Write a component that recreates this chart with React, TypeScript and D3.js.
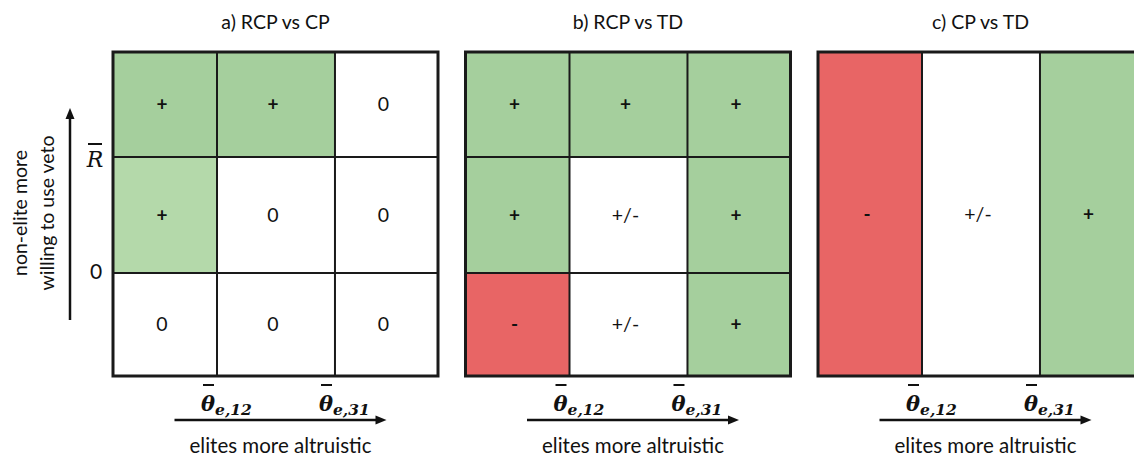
import React from "react";
import * as d3 from "d3";

// ---- data ----
const panelTitles = ["a) RCP vs CP", "b) RCP vs TD", "c) CP vs TD"];
// column thresholds along "elites more altruistic" (fraction of panel width)
const columnEdges = [0, 0.32, 0.683, 1];
// row thresholds along "non-elite more willing to use veto" (fraction from top)
const rowEdges = [0, 0.324, 0.682, 1];
const xTickLabels = ["12", "31"]; // subscripts of theta-bar_e
const yTickLabels = ["R", "0"];

// cell signs (rows top->bottom, columns left->right)
const signsA = [
  ["+", "+", "0"],
  ["+", "0", "0"],
  ["0", "0", "0"],
];
const fillsA = [
  ["green", "green", "white"],
  ["lightgreen", "white", "white"],
  ["white", "white", "white"],
];
const signsB = [
  ["+", "+", "+"],
  ["+", "+/-", "+"],
  ["-", "+/-", "+"],
];
const fillsB = [
  ["green", "green", "green"],
  ["green", "white", "green"],
  ["red", "white", "green"],
];
// panel c: whole-height columns
const signsC = ["-", "+/-", "+"];
const fillsC = ["red", "white", "green"];

const colorMap: Record<string, string> = {
  green: "#a5cf9d",
  lightgreen: "#b4d9aa",
  white: "#ffffff",
  red: "#e86565",
};

const W = 1134;
const H = 462;
const FONT = "Lato, 'Open Sans', sans-serif";
const MATH = "'DejaVu Serif', 'Liberation Serif', serif";

const panelLeft = d3.scaleLinear().domain([0, 1]).range([113, 465.5]);
const panelWidth = 325;
const yScale = d3.scaleLinear().domain([0, 1]).range([52, 376]);

type Cell = { r: number; c: number; sign: string; fill: string; y0: number; y1: number };

function cellsFor(i: number): Cell[] {
  const out: Cell[] = [];
  if (i === 2) {
    signsC.forEach((s, c) =>
      out.push({ r: 0, c, sign: s, fill: fillsC[c], y0: 0, y1: 1 })
    );
    return out;
  }
  const signs = i === 0 ? signsA : signsB;
  const fills = i === 0 ? fillsA : fillsB;
  signs.forEach((row, r) =>
    row.forEach((s, c) =>
      out.push({ r, c, sign: s, fill: fills[r][c], y0: rowEdges[r], y1: rowEdges[r + 1] })
    )
  );
  return out;
}

function Panel({ i }: { i: number }) {
  const left = panelLeft(i);
  const x = d3.scaleLinear().domain([0, 1]).range([left, left + panelWidth]);
  const cx = left + panelWidth / 2;
  const cells = cellsFor(i);
  const arrowY = 420;
  return (
    <g>
      <text x={cx} y={29} textAnchor="middle" fontFamily={FONT} fontSize={19.5} fill="#111">
        {panelTitles[i]}
      </text>
      {cells.map((d, k) => (
        <rect
          key={"r" + k}
          x={x(columnEdges[d.c])}
          y={yScale(d.y0)}
          width={x(columnEdges[d.c + 1]) - x(columnEdges[d.c])}
          height={yScale(d.y1) - yScale(d.y0)}
          fill={colorMap[d.fill]}
        />
      ))}
      {/* inner grid lines */}
      {columnEdges.slice(1, -1).map((e, k) => (
        <line key={"v" + k} x1={x(e)} x2={x(e)} y1={yScale(0)} y2={yScale(1)} stroke="#1a1a1a" strokeWidth={2} />
      ))}
      {i < 2 &&
        rowEdges.slice(1, -1).map((e, k) => (
          <line key={"h" + k} x1={x(0)} x2={x(1)} y1={yScale(e)} y2={yScale(e)} stroke="#1a1a1a" strokeWidth={2} />
        ))}
      <rect
        x={x(0)}
        y={yScale(0)}
        width={panelWidth}
        height={yScale(1) - yScale(0)}
        fill="none"
        stroke="#1a1a1a"
        strokeWidth={3}
      />
      {cells.map((d, k) => {
        const isSym = d.sign === "+" || d.sign === "-";
        return (
          <text
            key={"t" + k}
            x={(x(columnEdges[d.c]) + x(columnEdges[d.c + 1])) / 2 - 3}
            y={(yScale(d.y0) + yScale(d.y1)) / 2}
            dy="0.35em"
            textAnchor="middle"
            fontFamily={FONT}
            fontSize={isSym ? 19 : 19.5}
            fontWeight={isSym ? "bold" : "normal"}
            fill="#111"
          >
            {d.sign}
          </text>
        );
      })}
      {/* x tick labels: theta-bar_{e,..} */}
      {xTickLabels.map((lab, k) => {
        const tx = x(columnEdges[k + 1]);
        return (
          <g key={"xt" + k}>
            <line x1={tx - 14} x2={tx - 3} y1={385} y2={385} stroke="#111" strokeWidth={2} />
            <text x={tx - 16} y={411} fontFamily={MATH} fontStyle="italic" fontWeight="bold" fontSize={21} fill="#111">
              θ
              <tspan fontSize={15.5} dy={4}>
                {"e," + lab}
              </tspan>
            </text>
          </g>
        );
      })}
      {/* x axis arrow */}
      <line x1={cx - 101} x2={cx + 102} y1={arrowY} y2={arrowY} stroke="#111" strokeWidth={2.5} />
      <path d={`M${cx + 111},${arrowY} L${cx + 100},${arrowY - 4.5} L${cx + 100},${arrowY + 4.5} Z`} fill="#111" />
      <text x={cx + 5} y={453} textAnchor="middle" fontFamily={FONT} fontSize={20.5} fill="#111">
        elites more altruistic
      </text>
    </g>
  );
}

export default function App() {
  return (
    <svg
      width={W}
      height={H}
      viewBox={`0 0 ${W} ${H}`}
      style={{ position: "absolute", left: 0, top: 0, background: "#fff" }}
    >
      <rect width={W} height={H} fill="#fff" />
      {[0, 1, 2].map((i) => (
        <Panel key={i} i={i} />
      ))}
      {/* y axis */}
      <line x1={70} x2={70} y1={320} y2={118} stroke="#111" strokeWidth={2.5} />
      <path d="M70,108 L65.5,119 L74.5,119 Z" fill="#111" />
      <text
        transform={`translate(27,213) rotate(-90)`}
        textAnchor="middle"
        fontFamily={FONT}
        fontSize={19.5}
        fill="#111"
      >
        non-elite more
      </text>
      <text
        transform={`translate(54,213) rotate(-90)`}
        textAnchor="middle"
        fontFamily={FONT}
        fontSize={19.5}
        fill="#111"
      >
        willing to use veto
      </text>
      {/* y tick labels */}
      <line x1={88} x2={102} y1={144} y2={144} stroke="#111" strokeWidth={2} />
      <text x={95} y={yScale(rowEdges[1]) + 10} textAnchor="middle" fontFamily={MATH} fontStyle="italic" fontSize={22} fill="#111">
        {yTickLabels[0]}
      </text>
      <text x={96} y={yScale(rowEdges[2]) + 6} textAnchor="middle" fontFamily={FONT} fontSize={21} fill="#111">
        {yTickLabels[1]}
      </text>
    </svg>
  );
}
